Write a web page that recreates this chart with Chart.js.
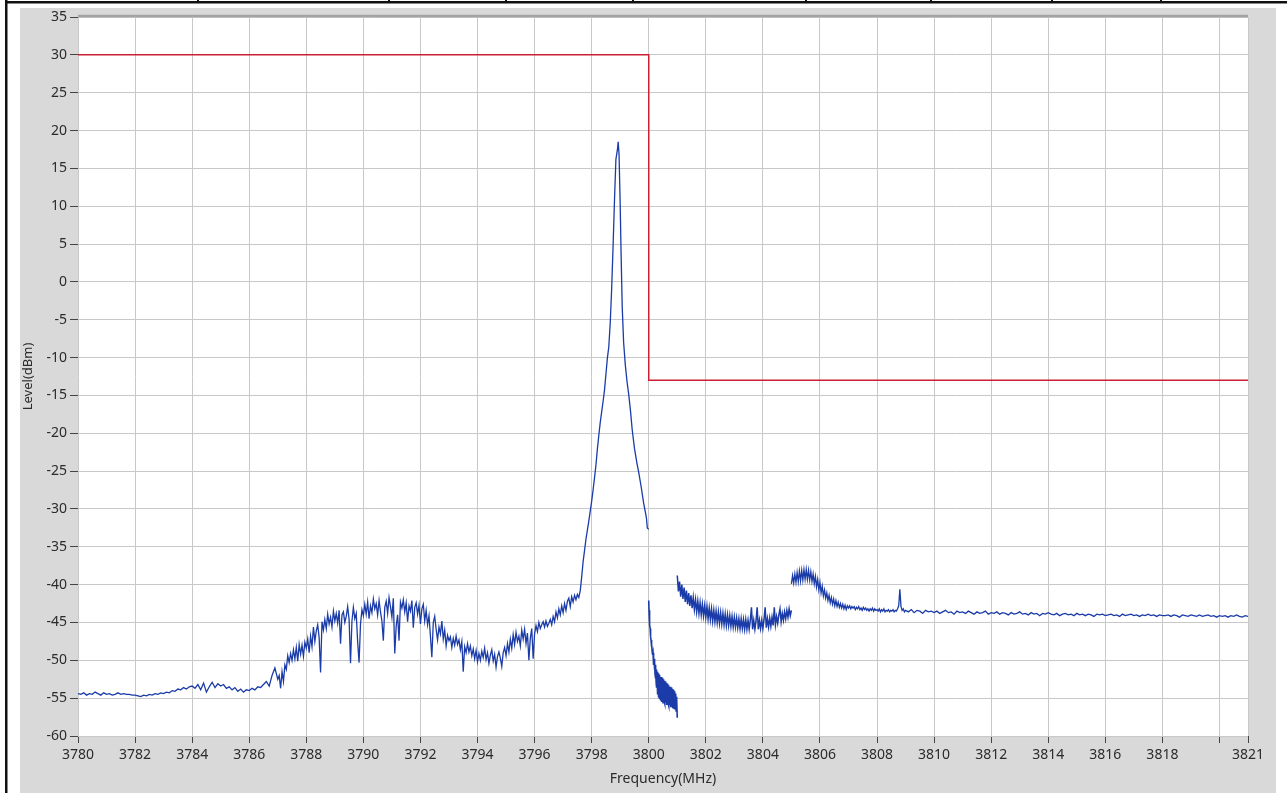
<!DOCTYPE html>
<html><head><meta charset="utf-8">
<script src="https://cdn.jsdelivr.net/npm/chart.js@4/dist/chart.umd.min.js"></script>
<style>html,body{margin:0;padding:0;background:#fff;overflow:hidden}canvas{display:block}</style>
</head><body>
<canvas id="c" width="1287" height="793"></canvas>
<script>
// ---- axis ticks ----
const xTickValues = [3780,3782,3784,3786,3788,3790,3792,3794,3796,3798,3800,3802,3804,3806,3808,3810,3812,3814,3816,3818,3820,3821];
const xTickLabels = ['3780','3782','3784','3786','3788','3790','3792','3794','3796','3798','3800','3802','3804','3806','3808','3810','3812','3814','3816','3818','','3821'];
const yMin = -60, yMax = 35, yStep = 5;

// ---- limit mask (red) ----
const limitFreq  = [3780, 3800, 3800, 3821];
const limitLevel = [30, 30, -13, -13];

// ---- trace segment 1a: 3780.0 .. 3787.0, step 0.1 ----
const seg1aStart = 3780.0, seg1aStep = 0.1;
const seg1aLevel = [
-54.4,-54.5,-54.3,-54.6,-54.4,-54.5,-54.2,-54.4,-54.6,-54.3,
-54.5,-54.4,-54.6,-54.5,-54.3,-54.5,-54.4,-54.5,-54.5,-54.6,
-54.6,-54.7,-54.8,-54.6,-54.7,-54.5,-54.6,-54.4,-54.5,-54.3,
-54.4,-54.2,-54.3,-54.0,-54.1,-53.8,-53.9,-53.6,-53.8,-53.5,
-53.4,-53.7,-53.2,-53.9,-53.0,-54.2,-53.5,-52.9,-53.6,-53.1,
-53.4,-53.2,-53.7,-53.5,-53.9,-53.6,-54.1,-53.8,-54.2,-53.9,
-54.0,-53.7,-53.9,-53.5,-53.6,-53.2,-52.8,-53.4,-52.0,-51.0,
-52.5];

// ---- trace segment 1b: 3787.05 .. 3797.60, step 0.05 ----
const seg1bStart = 3787.05, seg1bStep = 0.05;
const seg1bLevel = [
-52.0,-53.7,-51.5,-52.8,-50.6,-51.2,-49.4,-50.3,-49.1,-50.0,-48.6,-49.8,-48.3,-50.1,-47.9,-49.2,-48.0,-49.5,-47.6,-48.4,
-47.2,-49.0,-46.8,-48.2,-45.6,-47.5,-46.1,-45.3,-47.0,-51.6,-44.9,-46.0,-44.6,-45.8,-43.9,-45.2,-44.3,-45.6,-43.5,-44.8,
-43.8,-45.1,-43.4,-47.8,-44.0,-43.6,-45.0,-44.2,-42.9,-44.6,-50.4,-44.8,-43.0,-44.5,-43.8,-47.6,-50.3,-45.2,-43.3,-44.1,
-42.6,-43.9,-42.3,-44.5,-42.8,-43.7,-41.9,-43.2,-42.5,-44.0,-42.1,-43.6,-44.8,-47.4,-43.0,-42.2,-43.8,-41.7,-42.9,-44.3,
-41.8,-49.1,-45.5,-44.0,-47.4,-42.3,-43.1,-42.0,-43.6,-42.4,-44.9,-42.8,-43.5,-42.1,-45.7,-43.0,-42.4,-43.9,-42.7,-45.2,
-43.2,-42.6,-44.8,-43.4,-45.3,-44.1,-46.8,-49.6,-45.0,-44.2,-45.9,-47.3,-45.6,-46.5,-44.8,-47.2,-46.0,-48.1,-46.7,-47.4,
-46.9,-48.3,-47.1,-48.0,-46.8,-47.9,-47.3,-48.6,-47.5,-51.5,-48.2,-49.0,-47.8,-48.9,-48.1,-49.4,-48.5,-49.8,-48.7,-50.2,
-49.1,-50.0,-48.8,-49.6,-48.4,-49.9,-49.0,-50.4,-49.3,-48.6,-50.1,-49.2,-50.9,-49.5,-48.9,-49.7,-50.8,-49.0,-48.3,-49.4,
-47.8,-48.9,-47.2,-48.4,-46.6,-47.9,-46.3,-47.5,-46.8,-48.1,-46.0,-47.2,-45.9,-47.8,-46.4,-50.0,-47.1,-45.8,-49.8,-46.5,
-45.4,-46.2,-45.0,-45.8,-45.3,-44.9,-45.6,-44.8,-45.5,-45.1,-44.6,-45.3,-44.2,-44.9,-43.6,-44.4,-43.2,-44.0,-42.8,-43.7,
-42.5,-43.4,-42.2,-41.8,-42.9,-41.6,-42.3,-41.4,-42.0,-41.3,-41.7,-40.8];

// ---- carrier peak: explicit points ----
const peakFreq  = [3797.65,3797.70,3797.75,3797.80,3797.85,3797.90,3797.95,3798.00,3798.05,3798.10,3798.15,3798.20,3798.25,3798.30,3798.35,3798.40,3798.45,3798.50,3798.55,3798.60,3798.65,3798.70,3798.75,3798.80,3798.85,3798.90,3798.93,3798.96,3799.00,3799.03,3799.07,3799.12,3799.18,3799.24,3799.30,3799.36,3799.42,3799.50,3799.58,3799.66,3799.74,3799.82,3799.88,3799.92,3799.95,3800.00];
const peakLevel = [-39.0,-37.0,-35.5,-34.0,-32.8,-31.6,-30.3,-29.0,-27.5,-25.9,-24.2,-22.1,-20.3,-18.6,-17.2,-15.8,-14.3,-12.2,-10.1,-8.6,-5.5,-1.0,4.6,10.8,16.2,17.4,18.5,16.8,10.2,4.0,-3.2,-8.0,-11.0,-13.2,-14.9,-17.0,-19.5,-22.0,-23.8,-25.4,-27.2,-29.2,-30.4,-31.2,-32.5,-32.7];

// ---- trace segment 2: 3800.00 .. 3801.00, step 0.01 ----
const seg2Start = 3800.0, seg2Step = 0.01;
const seg2Level = [
-42.1,-43.4,-44.2,-44.9,-45.3,-45.8,-46.4,-46.9,-47.3,-47.6,
-48.2,-47.9,-48.8,-48.5,-49.3,-49.0,-50.1,-49.4,-50.6,-49.8,
-51.2,-50.3,-51.8,-50.6,-52.4,-50.9,-53.0,-51.2,-53.6,-51.5,
-54.0,-51.6,-54.5,-51.9,-54.9,-51.7,-54.6,-52.1,-55.1,-51.9,
-54.8,-52.4,-55.3,-52.2,-54.6,-52.6,-55.5,-52.3,-55.0,-52.8,
-55.6,-52.5,-55.0,-52.9,-55.4,-52.7,-55.7,-53.1,-55.1,-52.8,
-55.6,-53.2,-55.3,-53.0,-55.9,-53.4,-55.4,-53.1,-55.7,-53.6,
-56.0,-53.3,-55.5,-53.7,-55.9,-53.5,-56.2,-53.8,-55.8,-53.6,
-56.1,-54.0,-55.9,-53.8,-56.3,-54.2,-56.0,-53.9,-56.4,-54.3,
-56.2,-54.1,-56.5,-54.5,-56.3,-54.4,-56.7,-54.8,-56.5,-55.2,
-57.6];

// ---- trace segment 3: 3801.00 .. 3805.00, step 0.04 ----
const seg3Start = 3801.0, seg3Step = 0.04;
const seg3Level = [
-38.8,-40.9,-39.6,-41.6,-40.0,-41.9,-40.4,-42.3,-40.8,-42.6,-41.1,-42.8,-41.4,-43.1,-41.7,-43.3,-42.0,-43.6,-42.2,-43.8,-42.4,-44.0,-42.6,-44.1,-42.8,
-44.3,-42.9,-44.5,-43.1,-44.6,-43.2,-44.8,-43.4,-44.9,-43.5,-45.0,-43.6,-45.1,-43.7,-45.2,-43.8,-45.3,-43.9,-45.4,-44.0,-45.4,-44.1,-45.5,-44.2,-45.6,
-44.3,-45.6,-44.4,-45.7,-44.5,-45.8,-44.5,-45.8,-44.6,-45.9,-44.6,-45.9,-44.7,-45.9,-44.7,-43.0,-45.9,-44.7,-45.9,-44.8,-43.0,-45.9,-44.7,-45.8,-44.7,
-45.8,-44.6,-43.0,-45.7,-44.5,-45.6,-44.4,-45.5,-44.3,-45.4,-43.0,-45.3,-44.2,-45.1,-44.0,-43.2,-44.9,-43.8,-44.7,-43.6,-44.5,-43.4,-44.3,-43.2,-44.1,
-43.4];

// ---- trace segment 4a: 3805.00 .. 3809.00, step 0.04 ----
const seg4aStart = 3805.0, seg4aStep = 0.04;
const seg4aLevel = [
-39.9,-38.8,-39.8,-38.6,-39.7,-38.4,-39.6,-38.2,-39.5,-38.1,-39.4,-38.0,-39.3,-38.0,-39.3,-38.1,-39.4,-38.3,-39.6,-38.6,-39.9,-38.9,-40.3,-39.3,-40.7,
-39.7,-41.1,-40.2,-41.5,-40.7,-41.8,-41.1,-42.1,-41.4,-42.4,-41.7,-42.6,-41.9,-42.8,-42.1,-42.9,-42.3,-43.0,-42.5,-43.1,-42.6,-43.2,-42.7,-43.3,-42.8,
-43.1,-42.8,-43.2,-42.9,-43.1,-42.9,-43.3,-43.0,-43.2,-42.9,-43.3,-43.1,-43.4,-43.0,-43.3,-43.1,-43.4,-43.2,-43.5,-43.2,-43.4,-43.1,-43.5,-43.2,-43.4,
-43.3,-43.5,-43.2,-43.6,-43.3,-43.5,-43.2,-43.6,-43.4,-43.5,-43.3,-43.6,-43.4,-43.5,-43.3,-43.6,-43.4,-43.5,-43.2,-42.8,-40.6,-42.9,-43.4,-43.2,-43.6,
-43.4];

// ---- trace segment 4b: 3809.1 .. 3821.0, step 0.1 ----
const seg4bStart = 3809.1, seg4bStep = 0.1;
const seg4bLevel = [
-43.6,-43.3,-43.7,-43.4,-43.5,-43.8,-43.4,-43.6,-43.5,-43.7,
-43.5,-43.8,-43.6,-43.4,-43.7,-43.6,-43.9,-43.5,-43.7,-43.6,
-43.8,-43.5,-43.7,-43.9,-43.6,-43.8,-43.7,-43.5,-43.9,-43.7,
-43.8,-43.6,-43.9,-43.7,-43.8,-44.0,-43.7,-43.9,-43.8,-43.6,
-43.9,-43.8,-44.0,-43.7,-43.9,-43.8,-44.1,-43.8,-43.9,-43.7,
-43.9,-44.0,-43.8,-44.1,-43.9,-43.8,-44.0,-43.9,-44.1,-43.8,
-44.0,-43.9,-44.1,-43.9,-44.0,-44.2,-43.9,-44.0,-43.9,-44.1,
-44.0,-43.9,-44.1,-44.0,-44.2,-43.9,-44.1,-44.0,-43.9,-44.1,
-44.0,-44.2,-44.0,-44.1,-43.9,-44.1,-44.0,-44.2,-44.0,-44.1,
-44.1,-44.0,-44.2,-44.0,-44.1,-44.3,-44.0,-44.1,-44.2,-44.0,
-44.1,-44.2,-44.0,-44.2,-44.1,-44.0,-44.2,-44.1,-44.3,-44.1,
-44.2,-44.1,-44.3,-44.1,-44.2,-44.0,-44.2,-44.3,-44.1,-44.2];

// ---- build point lists ----
function sweep(start, step, levels) {
  return levels.map((v, i) => ({x: +(start + i * step).toFixed(3), y: v}));
}
function pairs(fs, ls) { return fs.map((f, i) => ({x: f, y: ls[i]})); }

const trace1 = sweep(seg1aStart, seg1aStep, seg1aLevel)
  .concat(sweep(seg1bStart, seg1bStep, seg1bLevel))
  .concat(pairs(peakFreq, peakLevel));
const trace2 = sweep(seg2Start, seg2Step, seg2Level);
const trace3 = sweep(seg3Start, seg3Step, seg3Level);
const trace4 = sweep(seg4aStart, seg4aStep, seg4aLevel).concat(sweep(seg4bStart, seg4bStep, seg4bLevel));
const limitPts = pairs(limitFreq, limitLevel);

const BLUE = '#1b3ca8';
function traceDs(data, w) {
  return {data, borderColor: BLUE, borderWidth: w || 1.3, pointRadius: 0, tension: 0, fill: false, order: 2};
}

const framePlugin = {
  id: 'frame',
  beforeDraw(chart) {
    const ctx = chart.ctx, W = chart.width, H = chart.height, a = chart.chartArea;
    ctx.save();
    ctx.fillStyle = '#ffffff'; ctx.fillRect(0, 0, W, H);
    ctx.fillStyle = '#d9d9d9'; ctx.fillRect(20, 8, 1256, H - 8);
    ctx.fillStyle = '#ffffff'; ctx.fillRect(a.left, a.top, a.right - a.left, a.bottom - a.top);
    ctx.fillStyle = '#111';
    ctx.fillRect(5, 0, 2.5, H);
    ctx.fillRect(5, 1, W - 5, 2.5);
    [197, 388, 505, 632, 805, 930, 1051, 1160].forEach(x => ctx.fillRect(x, 0, 2, 3));
    ctx.restore();
  },
  afterDraw(chart) {
    const ctx = chart.ctx, a = chart.chartArea;
    ctx.save();
    ctx.strokeStyle = '#a3a3a3'; ctx.lineWidth = 2.5;
    ctx.beginPath(); ctx.moveTo(a.left, a.top - 1); ctx.lineTo(a.right, a.top - 1); ctx.stroke();
    ctx.restore();
  }
};

const FONT = '"Noto Sans", "DejaVu Sans", sans-serif';

new Chart(document.getElementById('c'), {
  type: 'line',
  data: {
    datasets: [
      {data: limitPts, borderColor: '#cc1f36', borderWidth: 1.5, pointRadius: 0, tension: 0, fill: false, order: 1},
      traceDs(trace1), traceDs(trace2, 1.6), traceDs(trace3, 1.5), traceDs(trace4)
    ]
  },
  plugins: [framePlugin],
  options: {
    responsive: false,
    animation: false,
    devicePixelRatio: 1,
    layout: {padding: {left: 20, top: 17, right: 39, bottom: 0}},
    plugins: {legend: {display: false}, tooltip: {enabled: false}},
    scales: {
      x: {
        type: 'linear', min: 3780, max: 3821,
        afterBuildTicks(scale) { scale.ticks = xTickValues.map(v => ({value: v})); },
        afterFit(scale) { scale.height = 57; },
        grid: {color: '#c8c8c8', lineWidth: 1, tickLength: 7, tickColor: '#444', drawTicks: true},
        border: {display: false},
        ticks: {
          autoSkip: false, maxRotation: 0, padding: 4,
          color: '#2b2b2b', font: {family: FONT, size: 14},
          callback(value, index) { return xTickLabels[index]; }
        },
        title: {display: true, text: 'Frequency(MHz)', color: '#2b2b2b', font: {family: FONT, size: 14}, padding: {top: 0, bottom: 6}}
      },
      y: {
        type: 'linear', min: yMin, max: yMax,
        afterFit(scale) { scale.width = 58; },
        grid: {color: '#c8c8c8', lineWidth: 1, tickLength: 8, tickColor: '#444'},
        border: {display: false},
        ticks: {stepSize: yStep, padding: 3, color: '#2b2b2b', font: {family: FONT, size: 14}},
        title: {display: true, text: 'Level(dBm)', color: '#2b2b2b', font: {family: FONT, size: 13}, padding: {top: 0, bottom: 0}}
      }
    }
  }
});
</script>
</body></html>
